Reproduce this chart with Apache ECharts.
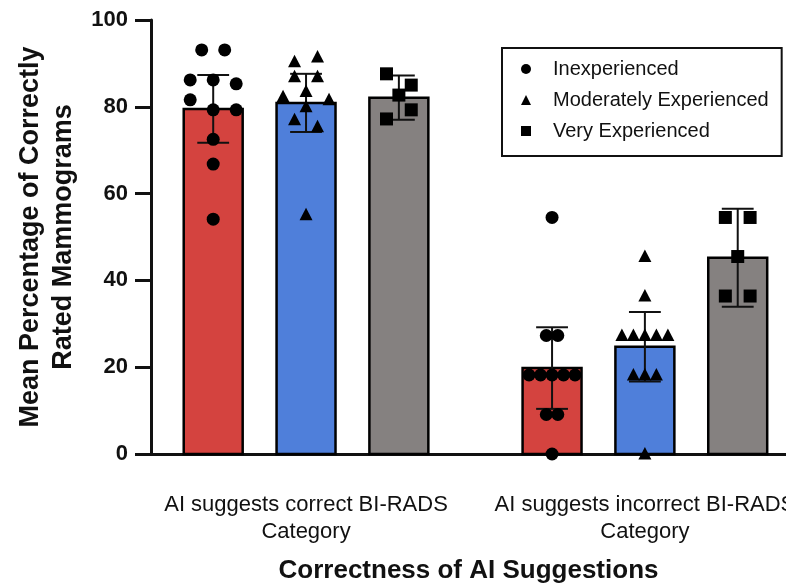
<!DOCTYPE html>
<html>
<head>
<meta charset="utf-8">
<script src="https://cdn.jsdelivr.net/npm/echarts@6/dist/echarts.min.js"></script>
<style>
  html, body { margin: 0; padding: 0; background: #fff; }
  #chart { width: 786px; height: 588px; }
</style>
</head>
<body>
<div id="chart"></div>
<script>
// groups on the x axis and experience levels
const groups = ['AI suggests correct BI-RADS\nCategory', 'AI suggests incorrect BI-RADS\nCategory'];
const levels = ['Inexperienced', 'Moderately Experienced', 'Very Experienced'];

// bar heights (mean %) per group
const meanInexp = [79.5, 19.8];
const meanModerate = [80.9, 24.7];
const meanVery = [82.1, 45.2];

// half length of the error bars
const errInexp = [7.8, 9.4];
const errModerate = [6.7, 8.0];
const errVery = [5.1, 11.3];

// individual readers
const ptsInexpCorrect = [93.1, 93.1, 86.2, 86.2, 85.3, 79.3, 81.6, 79.3, 72.5, 66.8, 54.1];
const ptsInexpIncorrect = [54.5, 27.3, 27.3, 18.2, 18.2, 18.2, 18.2, 18.2, 9.1, 9.1, 0];
const ptsModerateCorrect = [90.4, 91.5, 86.9, 86.9, 83.5, 82.3, 81.6, 80.0, 77.0, 75.4, 55.1];
const ptsModerateIncorrect = [45.5, 36.4, 27.3, 27.3, 27.3, 27.3, 27.3, 18.2, 18.2, 18.2, 0];
const ptsVeryCorrect = [87.6, 85.0, 82.7, 77.2, 79.3];
const ptsVeryIncorrect = [54.5, 54.5, 45.5, 36.4, 36.4];

const yTicks = [0, 20, 40, 60, 80, 100];

const means = [meanInexp, meanModerate, meanVery];
const errs = [errInexp, errModerate, errVery];
const points = [
  [ptsInexpCorrect, ptsInexpIncorrect],
  [ptsModerateCorrect, ptsModerateIncorrect],
  [ptsVeryCorrect, ptsVeryIncorrect]
];
const barColors = ['#d4433f', '#4f7fda', '#858180'];
const symbols = ['circle', 'triangle', 'rect'];

const GROUP_STRIDE = 3.65;
const BAR_W = 0.635;
const MARK = 13;
const FONT = 'Liberation Sans, Arial, sans-serif';

function xPos(g, lvl) { return g * GROUP_STRIDE + lvl; }

function slotOrder(n) {
  const out = [];
  if (n % 2) {
    out.push(0);
    for (let k = 1; out.length < n; k++) out.push(-k, k);
  } else {
    for (let k = 0.5; out.length < n; k++) out.push(-k, k);
  }
  return out.slice(0, n);
}

// spread points of one column sideways, GraphPad style
function layoutColumn(values, x, api, barPx) {
  const pts = values.map((v, i) => ({ v: v, i: i, y: api.coord([x, v])[1] }));
  const sorted = pts.slice().sort((a, b) => b.v - a.v || a.i - b.i);
  const rows = [];
  sorted.forEach(p => {
    const row = rows[rows.length - 1];
    if (row && Math.abs(p.y - row[0].y) < MARK) row.push(p);
    else rows.push([p]);
  });
  const maxRow = Math.max.apply(null, rows.map(r => r.length));
  const step = maxRow > 1 ? Math.min(barPx * 0.42, barPx * 0.78 / (maxRow - 1)) : 0;
  const dx = [];
  rows.forEach(row => {
    row.sort((a, b) => a.i - b.i);
    const slots = slotOrder(row.length);
    row.forEach((p, k) => { dx[p.i] = slots[k] * step; });
  });
  return dx;
}

function markerShape(kind, cx, cy) {
  const h = MARK / 2;
  if (kind === 0) return { type: 'circle', shape: { cx: cx, cy: cy, r: h } };
  if (kind === 1) return { type: 'polygon', shape: { points: [[cx, cy - h - 0.5], [cx - h, cy + h - 1], [cx + h, cy + h - 1]] } };
  return { type: 'rect', shape: { x: cx - h, y: cy - h, width: MARK, height: MARK } };
}

const series = [];

// bars
levels.forEach((name, lvl) => {
  series.push({
    name: name + ' mean',
    type: 'custom',
    z: 2,
    data: groups.map((g, gi) => [xPos(gi, lvl), means[lvl][gi]]),
    encode: { x: 0, y: 1 },
    renderItem: function (params, api) {
      const x = api.value(0);
      const top = api.coord([x, api.value(1)]);
      const base = api.coord([x, 0]);
      const w = api.size([BAR_W, 0])[0];
      return {
        type: 'rect',
        shape: { x: top[0] - w / 2, y: top[1], width: w, height: base[1] - top[1] },
        style: { fill: barColors[lvl], stroke: '#000', lineWidth: 2.5 }
      };
    }
  });
});

// error bars (mean +- half length)
levels.forEach((name, lvl) => {
  series.push({
    name: name + ' error',
    type: 'custom',
    z: 3,
    data: groups.map((g, gi) => [xPos(gi, lvl), means[lvl][gi]]),
    encode: { x: 0, y: 1 },
    renderItem: function (params, api) {
      const gi = params.dataIndex;
      const x = api.value(0);
      const m = means[lvl][gi];
      const e = errs[lvl][gi];
      const hi = api.coord([x, m + e]);
      const lo = api.coord([x, m - e]);
      const cap = api.size([BAR_W, 0])[0] * 0.27;
      const st = { stroke: '#111', lineWidth: 2 };
      return {
        type: 'group',
        children: [
          { type: 'line', shape: { x1: hi[0], y1: hi[1], x2: lo[0], y2: lo[1] }, style: st },
          { type: 'line', shape: { x1: hi[0] - cap, y1: hi[1], x2: hi[0] + cap, y2: hi[1] }, style: st },
          { type: 'line', shape: { x1: lo[0] - cap, y1: lo[1], x2: lo[0] + cap, y2: lo[1] }, style: st }
        ]
      };
    }
  });
});

// individual points
levels.forEach((name, lvl) => {
  const data = [];
  groups.forEach((g, gi) => {
    points[lvl][gi].forEach((v, k) => data.push([xPos(gi, lvl), v, gi, k]));
  });
  series.push({
    name: name,
    type: 'custom',
    z: 4,
    itemStyle: { color: '#000' },
    data: data,
    encode: { x: 0, y: 1 },
    renderItem: function (params, api) {
      const x = api.value(0), v = api.value(1);
      const gi = api.value(2), k = api.value(3);
      const barPx = api.size([BAR_W, 0])[0];
      const dx = layoutColumn(points[lvl][gi], x, api, barPx);
      const p = api.coord([x, v]);
      const el = markerShape(lvl, p[0] + dx[k], p[1]);
      el.style = { fill: '#000' };
      return el;
    }
  });
});

const chart = echarts.init(document.getElementById('chart'), null, { renderer: 'canvas' });
chart.setOption({
  animation: false,
  backgroundColor: '#fff',
  grid: { left: 151, right: 0, top: 20, bottom: 134, outerBoundsMode: 'none' },
  legend: {
    orient: 'vertical',
    left: 502,
    top: 48,
    padding: [11, 13, 15, 19],
    borderColor: '#111',
    borderWidth: 2,
    itemWidth: 10,
    itemHeight: 10,
    itemGap: 11,
    textStyle: { fontFamily: FONT, fontSize: 20, color: '#111', padding: [0, 0, 0, 17] },
    data: levels.map((n, i) => ({ name: n, icon: symbols[i], itemStyle: { color: '#000' } }))
  },
  xAxis: {
    type: 'value',
    min: -0.67,
    max: 6.17,
    splitLine: { show: false },
    axisTick: { show: false },
    axisLine: { show: true, onZero: false, lineStyle: { color: '#111', width: 3 } },
    axisLabel: {
      customValues: groups.map((g, gi) => xPos(gi, 1)),
      formatter: function (val) {
        const gi = Math.round((val - 1) / GROUP_STRIDE);
        return groups[gi] || '';
      },
      fontFamily: FONT,
      fontSize: 22,
      lineHeight: 27,
      color: '#111',
      margin: 37,
      align: 'center'
    },
    name: 'Correctness of AI Suggestions',
    nameLocation: 'middle',
    nameGap: 104,
    nameTextStyle: { fontFamily: FONT, fontSize: 26, fontWeight: 'bold', color: '#111' }
  },
  yAxis: {
    type: 'value',
    min: 0,
    max: 100,
    interval: 20,
    splitLine: { show: false },
    axisLine: { show: true, onZero: false, lineStyle: { color: '#111', width: 3 } },
    axisTick: { show: true, length: 16, lineStyle: { color: '#111', width: 3 } },
    axisLabel: {
      customValues: yTicks,
      fontFamily: FONT,
      fontSize: 22,
      fontWeight: 'bold',
      color: '#111',
      margin: 23
    },
    name: 'Mean Percentage of Correctly\nRated Mammograms',
    nameLocation: 'middle',
    nameRotate: 90,
    nameGap: 67,
    nameTextStyle: { fontFamily: FONT, fontSize: 27, fontWeight: 'bold', color: '#111', lineHeight: 33 }
  },
  series: series
});
</script>
</body>
</html>
